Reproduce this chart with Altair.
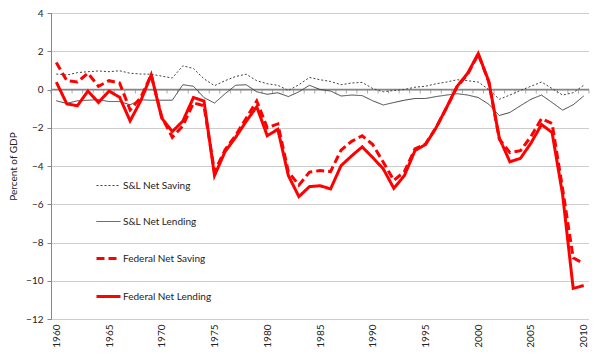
import altair as alt
import pandas as pd

years = list(range(1960, 2011))

sl_net_saving = [0.81, 0.76, 0.88, 0.93, 0.97, 0.93, 0.98, 0.85, 0.81, 0.80,
                 0.70, 0.60, 1.24, 1.10, 0.56, 0.20, 0.46, 0.68, 0.80, 0.46,
                 0.30, 0.22, -0.05, 0.25, 0.63, 0.51, 0.42, 0.25, 0.34, 0.37,
                 0.05, -0.12, -0.05, 0.00, 0.12, 0.17, 0.30, 0.39, 0.51, 0.46,
                 0.39, 0.00, -0.51, -0.29, -0.05, 0.17, 0.39, 0.05, -0.29, -0.17,
                 0.22]
sl_net_lending = [-0.59, -0.73, -0.59, -0.56, -0.53, -0.63, -0.63, -0.80, -0.54, -0.56,
                  -0.56, -0.56, 0.25, 0.17, -0.42, -0.71, -0.22, 0.22, 0.25, -0.12,
                  -0.25, -0.17, -0.37, -0.12, 0.22, 0.00, -0.08, -0.34, -0.29, -0.32,
                  -0.59, -0.81, -0.68, -0.56, -0.47, -0.47, -0.37, -0.29, -0.22, -0.29,
                  -0.42, -0.77, -1.36, -1.20, -0.85, -0.51, -0.29, -0.68, -1.08, -0.80,
                  -0.34]
federal_net_saving = [1.41, 0.46, 0.39, 0.85, 0.17, 0.46, 0.34, -1.07, -0.42, 0.76,
                      -1.44, -2.50, -1.90, -0.70, -0.85, -4.30, -3.15, -2.40, -1.50, -0.60,
                      -2.00, -1.80, -4.30, -5.00, -4.32, -4.24, -4.29, -3.17, -2.71, -2.42,
                      -2.88, -3.80, -4.75, -4.30, -3.10, -2.85, -2.00, -0.95, 0.15, 0.80,
                      1.85, 0.40, -2.60, -3.30, -3.20, -2.46, -1.52, -1.78, -5.20, -8.80,
                      -9.10]
federal_net_lending = [0.39, -0.75, -0.85, -0.08, -0.68, -0.08, -0.40, -1.64, -0.60, 0.76,
                       -1.50, -2.20, -1.65, -0.42, -0.60, -4.50, -3.25, -2.50, -1.67, -0.90,
                       -2.42, -2.08, -4.50, -5.60, -5.08, -5.03, -5.20, -3.98, -3.47, -3.00,
                       -3.56, -4.15, -5.17, -4.50, -3.20, -2.88, -2.00, -0.94, 0.17, 0.85,
                       1.88, 0.43, -2.54, -3.78, -3.60, -2.80, -1.83, -2.25, -5.50, -10.40,
                       -10.25]

series_names = ["S&L Net Saving", "S&L Net Lending", "Federal Net Saving", "Federal Net Lending"]
series_values = [sl_net_saving, sl_net_lending, federal_net_saving, federal_net_lending]
y_ticks = [-12, -10, -8, -6, -4, -2, 0, 2, 4]
x_labels = [1960, 1965, 1970, 1975, 1980, 1985, 1990, 1995, 2000, 2005, 2010]

rows = []
for name, vals in zip(series_names, series_values):
    for yr, v in zip(years, vals):
        rows.append({"year": yr, "value": v, "series": name})
df = pd.DataFrame(rows)

FONT = "Lato"
GRAY = "#868686"

x_scale = alt.Scale(domain=[1959.5, 2010.5], nice=False, zero=False)
y_scale = alt.Scale(domain=[-12, 4], nice=False)

x_axis = alt.Axis(values=x_labels, format="d", labelAngle=270, domain=False,
                  ticks=False, grid=False, title=None, labelFont=FONT,
                  labelFontSize=10, labelColor="#222222", labelPadding=5)
y_axis = alt.Axis(values=y_ticks, title="Percent of GDP", titleFont=FONT,
                  titleFontSize=10, titleFontWeight="normal", titleColor="#222222",
                  labelFont=FONT, labelFontSize=10, labelColor="#222222",
                  labelOverlap=False,
                  grid=True, gridColor="#9a9a9a", gridDash=[1, 1],
                  domainColor=GRAY, tickColor=GRAY, tickSize=4,
                  labelPadding=4, titlePadding=7)

legend = alt.Legend(
    orient="none", legendX=44, legendY=160, title=None,
    symbolType="stroke", symbolSize=576, labelFont=FONT, labelFontSize=10,
    labelColor="#222222", rowPadding=18, labelOffset=1, padding=0,
)

lines = alt.Chart(df).mark_line().encode(
    x=alt.X("year:Q", scale=x_scale, axis=x_axis),
    y=alt.Y("value:Q", scale=y_scale, axis=y_axis),
    color=alt.Color("series:N", scale=alt.Scale(domain=series_names,
                    range=["#404040", "#404040", "#ff0000", "#ff0000"]), legend=legend),
    strokeDash=alt.StrokeDash("series:N", scale=alt.Scale(domain=series_names,
                    range=[[2, 2], [1, 0], [8, 4], [1, 0]]), legend=legend),
    strokeWidth=alt.StrokeWidth("series:N", scale=alt.Scale(type="ordinal", domain=series_names,
                    range=[1, 1, 3, 3]), legend=legend),
    detail="series:N",
)

zero_line = alt.Chart(pd.DataFrame({"v": [0]})).mark_rule(color=GRAY, strokeWidth=1.5).encode(
    y=alt.Y("v:Q", scale=y_scale, axis=y_axis)
)

tick_positions = [y + 0.5 for y in range(1959, 2011)]
ticks = alt.Chart(pd.DataFrame({"t": tick_positions, "z": [0] * len(tick_positions)})).mark_tick(
    orient="vertical", size=4, thickness=1, yOffset=2, color=GRAY
).encode(
    x=alt.X("t:Q", scale=x_scale, axis=x_axis),
    y=alt.Y("z:Q", scale=y_scale, axis=y_axis),
)

chart = alt.layer(zero_line, ticks, lines).properties(
    width=584, height=340,
    autosize=alt.AutoSizeParams(type="fit", contains="padding"),
    padding={"left": 0, "top": 0, "right": 2, "bottom": 0},
).configure_view(stroke=None)

chart.save("out.html", embed_options={"renderer": "svg", "actions": False})
